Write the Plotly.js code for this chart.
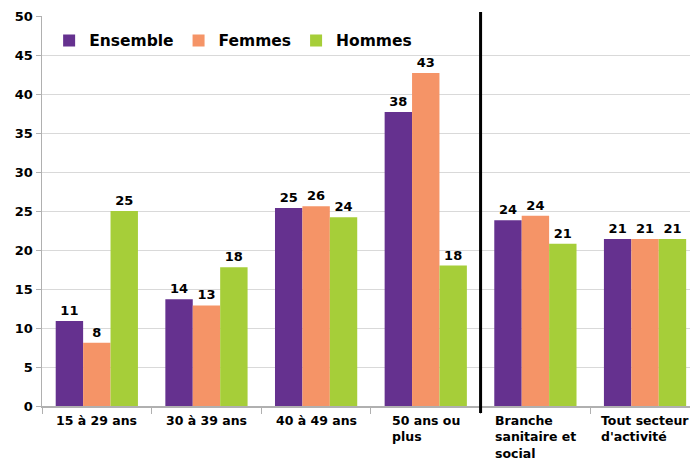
<!DOCTYPE html>
<html><head><meta charset="utf-8">
<script src="https://cdn.plot.ly/plotly-3.0.1.min.js"></script>
<style>html,body{margin:0;padding:0;background:#fff}</style>
</head><body>
<div id="chart" style="width:690px;height:458px"></div>
<script>
const categories = ["15 à 29 ans","30 à 39 ans","40 à 49 ans","50 ans ou<br>plus","Branche<br>sanitaire et<br>social","Tout secteur<br>d'activité"];
const ensemble = [10.9, 13.7, 25.4, 37.7, 23.8, 21.4];
const femmes   = [8.1, 12.9, 25.6, 42.7, 24.4, 21.4];
const hommes   = [25.0, 17.8, 24.2, 18.0, 20.8, 21.4];
const seriesNames = ["Ensemble","Femmes","Hommes"];
const colors = ["#65318F","#F59467","#A6CE39"];
const yTicks = [0,5,10,15,20,25,30,35,40,45,50];

const font = "DejaVu Sans, Verdana, sans-serif";
const idx = categories.map((c,i)=>i);
const mk = (name, vals, color) => ({
  type: "bar", name: name, x: idx, y: vals,
  marker: {color: color},
  texttemplate: "<b>%{y:.0f}</b>", textposition: "outside",
  textfont: {family: font, size: 13, color: "#000"},
  cliponaxis: false, hoverinfo: "skip"
});
const data = [mk(seriesNames[0], ensemble, colors[0]), mk(seriesNames[1], femmes, colors[1]), mk(seriesNames[2], hommes, colors[2])];

const annotations = categories.map((c,i)=>({
  xref: "x", yref: "paper", x: i, y: 0, yanchor: "top", xanchor: "center",
  yshift: -5, align: "left", showarrow: false,
  text: "<b>" + c + "</b>", font: {family: font, size: 12.5, color: "#000"}
}));

const layout = {
  width: 690, height: 458,
  margin: {l: 42, r: 0, t: 16, b: 52},
  paper_bgcolor: "#fff", plot_bgcolor: "#fff",
  barmode: "group", bargap: 0.25, bargroupgap: 0,
  showlegend: true,
  legend: {orientation: "h", x: 0.011, y: 0.98, xanchor: "left", yanchor: "top",
    font: {family: font, size: 15.5, color: "#000", weight: "bold"}, bgcolor: "rgba(0,0,0,0)", traceorder: "normal"},
  xaxis: {type: "linear", range: [-0.5, 5.41], tickvals: [-0.5,0.5,1.5,2.5,3.5,4.5,5.5], showticklabels: false,
    ticks: "outside", ticklen: 6, tickcolor: "#b0b0b0", tickwidth: 1,
    showline: true, linecolor: "#b0b0b0", linewidth: 1.5, showgrid: false, zeroline: false, fixedrange: true},
  yaxis: {range: [0, 50], tickvals: yTicks, ticktext: yTicks.map(v=>"<b>"+v+"</b>"),
    ticks: "outside", ticklen: 5, tickcolor: "#b0b0b0",
    showline: true, linecolor: "#b0b0b0", linewidth: 1.5,
    showgrid: true, gridcolor: "#d9d9d9", gridwidth: 1, zeroline: false,
    tickfont: {family: font, size: 13, color: "#000"}, fixedrange: true},
  shapes: [{type: "line", xref: "x", yref: "paper", x0: 3.5, x1: 3.5, y0: -0.018, y1: 1.01,
    line: {color: "#000", width: 3}}],
  annotations: annotations
};
Plotly.newPlot("chart", data, layout, {displayModeBar: false, staticPlot: true});
</script>
</body></html>
